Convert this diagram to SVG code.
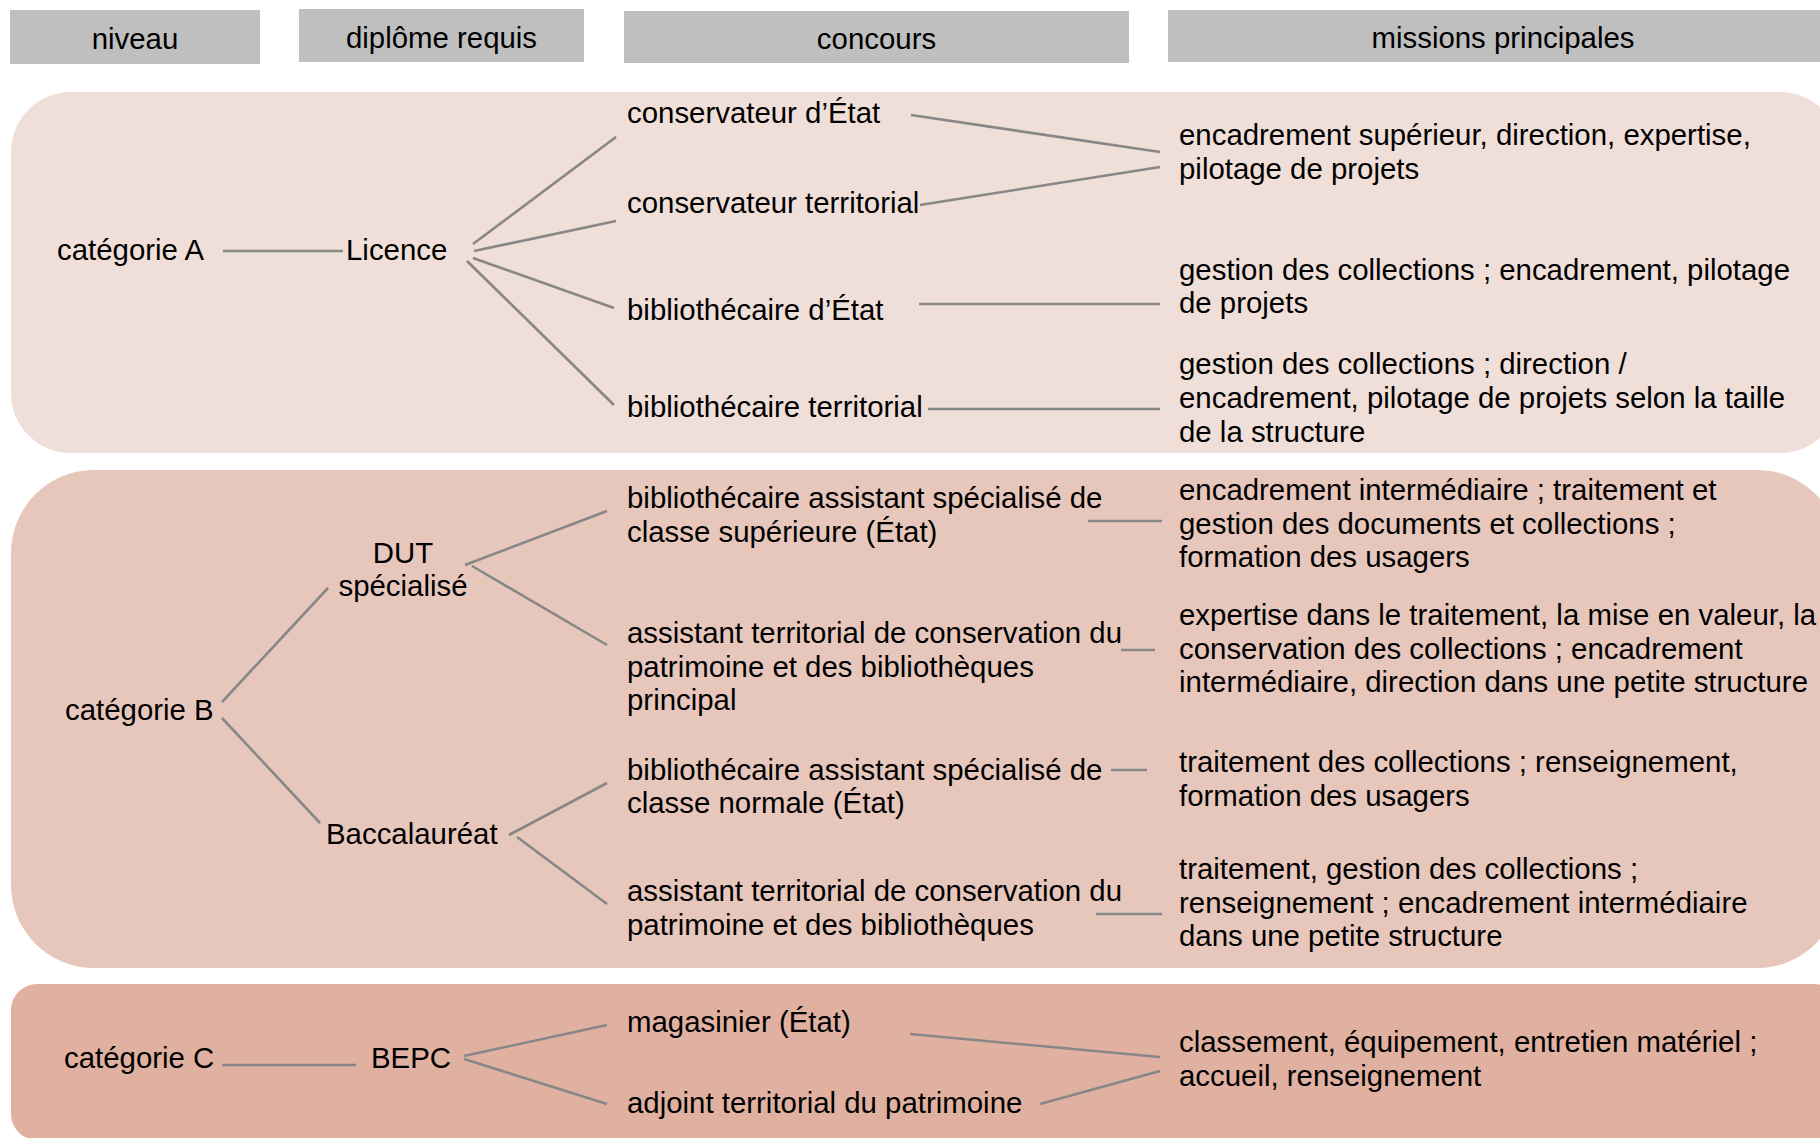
<svg xmlns="http://www.w3.org/2000/svg" width="1820" height="1138" viewBox="0 0 1820 1138">
<style>
  text { font-family: "Liberation Sans", Arial, sans-serif; font-size: 29.4px; fill: #000; }
  .hdr { fill: #BFBFBF; }
  .ctr { text-anchor: middle; }
  .conn line { stroke: #878787; stroke-width: 2.6; fill: none; }
</style>
<rect width="1820" height="1138" fill="#FFFFFF"/>

<!-- category bands -->
<g id="band-A"><rect x="11" y="92" width="1829" height="361" rx="60" ry="60" fill="#F0DED8"/></g>
<g id="band-B"><rect x="11" y="470" width="1829" height="498" rx="83" ry="83" fill="#E7C7BC"/></g>
<g id="band-C"><rect x="11" y="984" width="1829" height="156" rx="26" ry="26" fill="#E0B1A1"/></g>

<!-- headers -->
<g id="hdr-niveau"><rect class="hdr" x="10" y="10" width="250" height="54"/><text class="ctr" x="135" y="48.5">niveau</text></g>
<g id="hdr-diplome"><rect class="hdr" x="299" y="9" width="285" height="53"/><text class="ctr" x="441.5" y="47.5">diplôme requis</text></g>
<g id="hdr-concours"><rect class="hdr" x="624" y="11" width="505" height="52"/><text class="ctr" x="876.5" y="48.5">concours</text></g>
<g id="hdr-missions"><rect class="hdr" x="1168" y="10" width="672" height="52"/><text class="ctr" x="1503" y="47.5">missions principales</text></g>

<!-- connectors -->
<g id="connectors" class="conn">
  <line x1="223" y1="251" x2="343" y2="251"/>
  <line x1="473" y1="244" x2="616" y2="137"/>
  <line x1="474" y1="251" x2="616" y2="221"/>
  <line x1="473" y1="258" x2="614" y2="308"/>
  <line x1="467" y1="261" x2="614" y2="405"/>
  <line x1="911" y1="115" x2="1160" y2="152"/>
  <line x1="920" y1="205" x2="1160" y2="167"/>
  <line x1="919" y1="304" x2="1160" y2="304"/>
  <line x1="928" y1="409" x2="1160" y2="409"/>

  <line x1="222" y1="702" x2="328" y2="588"/>
  <line x1="222" y1="718" x2="320" y2="823"/>
  <line x1="465" y1="565" x2="607" y2="511"/>
  <line x1="472" y1="566" x2="607" y2="645"/>
  <line x1="509" y1="835" x2="607" y2="783"/>
  <line x1="517" y1="837" x2="607" y2="904"/>
  <line x1="1088" y1="521" x2="1162" y2="521"/>
  <line x1="1121" y1="650" x2="1155" y2="650"/>
  <line x1="1111" y1="770" x2="1147" y2="770"/>
  <line x1="1096" y1="914" x2="1162" y2="914"/>

  <line x1="222" y1="1065" x2="356" y2="1065"/>
  <line x1="464" y1="1056" x2="607" y2="1025"/>
  <line x1="464" y1="1059" x2="607" y2="1104"/>
  <line x1="910" y1="1034" x2="1160" y2="1057"/>
  <line x1="1040" y1="1104" x2="1160" y2="1071"/>
</g>

<!-- category A -->
<g id="cat-A"><text x="57" y="260">catégorie A</text></g>
<g id="dip-licence"><text x="346" y="260">Licence</text></g>
<g id="conc-conservateur-etat"><text x="627" y="123">conservateur d’État</text></g>
<g id="conc-conservateur-terr"><text x="627" y="213">conservateur territorial</text></g>
<g id="conc-biblio-etat"><text x="627" y="320">bibliothécaire d’État</text></g>
<g id="conc-biblio-terr"><text x="627" y="417">bibliothécaire territorial</text></g>
<g id="mis-A1"><text x="1179" y="145">encadrement supérieur, direction, expertise,</text><text x="1179" y="179">pilotage de projets</text></g>
<g id="mis-A2"><text x="1179" y="280">gestion des collections ; encadrement, pilotage</text><text x="1179" y="313">de projets</text></g>
<g id="mis-A3"><text x="1179" y="374">gestion des collections ; direction /</text><text x="1179" y="408">encadrement, pilotage de projets selon la taille</text><text x="1179" y="442">de la structure</text></g>

<!-- category B -->
<g id="cat-B"><text x="65" y="720">catégorie B</text></g>
<g id="dip-dut"><text class="ctr" x="403" y="563">DUT</text><text class="ctr" x="403" y="596">spécialisé</text></g>
<g id="dip-bac"><text x="326" y="844">Baccalauréat</text></g>
<g id="conc-bas-sup"><text x="627" y="508">bibliothécaire assistant spécialisé de</text><text x="627" y="542">classe supérieure (État)</text></g>
<g id="conc-atcpb-princ"><text x="627" y="643">assistant territorial de conservation du</text><text x="627" y="677">patrimoine et des bibliothèques</text><text x="627" y="710">principal</text></g>
<g id="conc-bas-norm"><text x="627" y="780">bibliothécaire assistant spécialisé de</text><text x="627" y="813">classe normale (État)</text></g>
<g id="conc-atcpb"><text x="627" y="901">assistant territorial de conservation du</text><text x="627" y="935">patrimoine et des bibliothèques</text></g>
<g id="mis-B1"><text x="1179" y="500">encadrement intermédiaire ; traitement et</text><text x="1179" y="534">gestion des documents et collections ;</text><text x="1179" y="567">formation des usagers</text></g>
<g id="mis-B2"><text x="1179" y="625">expertise dans le traitement, la mise en valeur, la</text><text x="1179" y="659">conservation des collections ; encadrement</text><text x="1179" y="692">intermédiaire, direction dans une petite structure</text></g>
<g id="mis-B3"><text x="1179" y="772">traitement des collections ; renseignement,</text><text x="1179" y="806">formation des usagers</text></g>
<g id="mis-B4"><text x="1179" y="879">traitement, gestion des collections ;</text><text x="1179" y="913">renseignement ; encadrement intermédiaire</text><text x="1179" y="946">dans une petite structure</text></g>

<!-- category C -->
<g id="cat-C"><text x="64" y="1068">catégorie C</text></g>
<g id="dip-bepc"><text x="371" y="1068">BEPC</text></g>
<g id="conc-magasinier"><text x="627" y="1032">magasinier (État)</text></g>
<g id="conc-adjoint"><text x="627" y="1113">adjoint territorial du patrimoine</text></g>
<g id="mis-C1"><text x="1179" y="1052">classement, équipement, entretien matériel ;</text><text x="1179" y="1086">accueil, renseignement</text></g>
</svg>
